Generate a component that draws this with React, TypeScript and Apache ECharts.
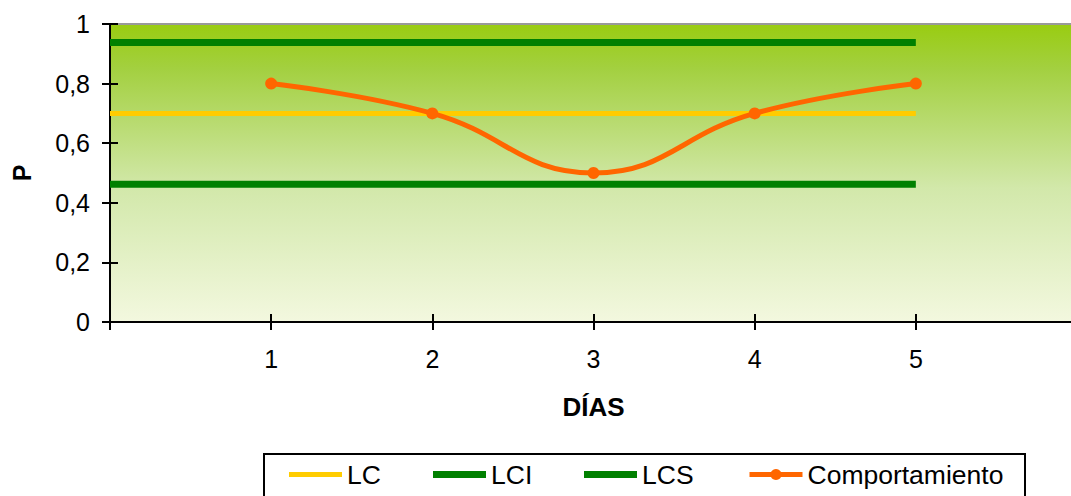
import React, { useEffect, useRef } from "react";
import * as echarts from "echarts";

const dayTicks = [1, 2, 3, 4, 5];
const limitDays = [0, 5];
const lcValues = [0.7, 0.7];
const lciValues = [0.462, 0.462];
const lcsValues = [0.938, 0.938];
const comportamiento = [0.8, 0.7, 0.5, 0.7, 0.8];
const legendNames = ["LC", "LCI", "LCS", "Comportamiento"];

const FONT = "'Liberation Sans', Arial, sans-serif";

export default function App() {
  const ref = useRef<HTMLDivElement>(null);
  useEffect(() => {
    if (!ref.current) return;
    const chart = echarts.init(ref.current, undefined, { renderer: "svg" });
    const pair = (xs: number[], ys: number[]) => xs.map((x, i) => [x, ys[i]]);
    const yFmt = (v: number) => String(Math.round(v * 10) / 10).replace(".", ",");
    const xFmt = (v: number) => (dayTicks.indexOf(v) >= 0 ? String(v) : "");
    const legendLefts = [289, 433, 584, 747];
    const legendIcons = [
      { icon: "rect", h: 5 },
      { icon: "rect", h: 7 },
      { icon: "rect", h: 7 },
      { icon: undefined, h: 14 },
    ];
    chart.setOption({
      animation: false,
      textStyle: { fontFamily: FONT },
      grid: {
        left: 110,
        top: 24,
        width: 967,
        height: 298,
        show: true,
        borderColor: "#999999",
        borderWidth: 2,
        backgroundColor: {
          type: "linear",
          x: 0,
          y: 0,
          x2: 0,
          y2: 1,
          colorStops: [
            { offset: 0, color: "#99CC11" },
            { offset: 0.15, color: "#A3D040" },
            { offset: 0.55, color: "#D2E8AA" },
            { offset: 1, color: "#F3F8DF" },
          ],
        },
      },
      xAxis: [
        {
          type: "value",
          min: 0,
          max: 6,
          interval: 1,
          name: "DÍAS",
          nameLocation: "middle",
          nameGap: 72,
          nameTextStyle: { fontSize: 26, fontWeight: "bold", color: "#000", fontFamily: FONT },
          axisLine: { show: true, onZero: false, lineStyle: { color: "#000", width: 2 } },
          axisTick: { show: true, length: 8, lineStyle: { color: "#000", width: 2 } },
          axisLabel: { formatter: xFmt, fontSize: 25, color: "#000", margin: 24, fontFamily: FONT },
          splitLine: { show: false },
        },
        {
          type: "value",
          min: 0,
          max: 6,
          interval: 1,
          position: "bottom",
          offset: 0,
          axisLine: { show: false },
          axisTick: { show: true, inside: true, length: 8, lineStyle: { color: "#000", width: 2 } },
          axisLabel: { show: false },
          splitLine: { show: false },
        },
      ],
      yAxis: [
        {
          type: "value",
          min: 0,
          max: 1,
          interval: 0.2,
          name: "P",
          nameLocation: "middle",
          nameGap: 76,
          nameRotate: 90,
          nameTextStyle: { fontSize: 25, fontWeight: "bold", color: "#000", fontFamily: FONT },
          axisLine: { show: true, onZero: false, lineStyle: { color: "#000", width: 2 } },
          axisTick: { show: true, length: 8, lineStyle: { color: "#000", width: 2 } },
          axisLabel: { formatter: yFmt, fontSize: 25, color: "#000", margin: 20, fontFamily: FONT },
          splitLine: { show: false },
        },
        {
          type: "value",
          min: 0,
          max: 1,
          interval: 0.2,
          position: "left",
          offset: 0,
          axisLine: { show: false },
          axisTick: { show: true, inside: true, length: 8, lineStyle: { color: "#000", width: 2 } },
          axisLabel: { show: false },
          splitLine: { show: false },
        },
      ],
      legend: legendNames.map((n, i) => ({
        data: [legendIcons[i].icon ? { name: n, icon: legendIcons[i].icon } : { name: n }],
        left: legendLefts[i],
        top: 474 - 13,
        padding: 0,
        itemWidth: 53,
        itemHeight: legendIcons[i].h,
        lineStyle: { width: 5 },
        textStyle: { fontSize: 26.5, color: "#000", fontFamily: FONT },
      })),
      graphic: [
        {
          type: "rect",
          left: 263,
          top: 453,
          shape: { width: 761, height: 60 },
          style: { fill: "#fff", stroke: "#000", lineWidth: 2 },
          z: -1,
        },
      ],
      series: [
        {
          name: "LC",
          type: "line",
          data: pair(limitDays, lcValues),
          symbol: "none",
          lineStyle: { color: "#FFCC00", width: 5 },
          itemStyle: { color: "#FFCC00" },
        },
        {
          name: "LCI",
          type: "line",
          data: pair(limitDays, lciValues),
          symbol: "none",
          lineStyle: { color: "#008000", width: 7 },
          itemStyle: { color: "#008000" },
        },
        {
          name: "LCS",
          type: "line",
          data: pair(limitDays, lcsValues),
          symbol: "none",
          lineStyle: { color: "#008000", width: 7 },
          itemStyle: { color: "#008000" },
        },
        {
          name: "Comportamiento",
          type: "line",
          data: pair(dayTicks, comportamiento),
          smooth: 0.45,
          symbol: "circle",
          symbolSize: 12,
          lineStyle: { color: "#FF6600", width: 5 },
          itemStyle: { color: "#FF6600" },
          z: 5,
        },
      ],
    });
    return () => chart.dispose();
  }, []);
  return (
    <div
      style={{
        position: "absolute",
        left: 0,
        top: 0,
        width: 1071,
        height: 496,
        overflow: "hidden",
      }}
    >
      <div ref={ref} style={{ width: 1090, height: 496 }} />
    </div>
  );
}
